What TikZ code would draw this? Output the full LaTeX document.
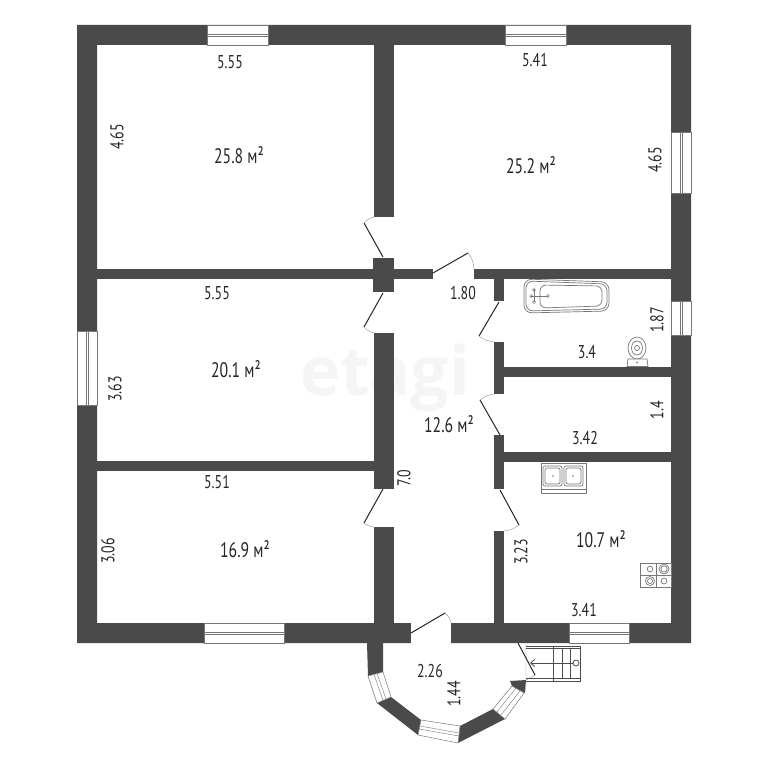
\documentclass[tikz,border=0pt]{standalone}
\usepackage{fontspec}
\setmainfont{PT Sans}[FakeStretch=0.75]
\newfontfamily\wmfont{Open Sans}
\usetikzlibrary{arrows.meta}
\definecolor{wallc}{HTML}{4A4A4A}
\definecolor{thinc}{HTML}{777777}
\tikzset{
  wall/.style={fill=wallc,draw=none},
  glass/.style={fill=white,draw=thinc,line width=.5pt},
  pane/.style={draw=thinc,line width=.6pt},
  doorleaf/.style={draw=black!85,line width=1pt},
  doorarc/.style={draw=black!45,line width=.4pt},
  fix/.style={draw=thinc,line width=.7pt,fill=white},
  fixb/.style={draw=black!70,line width=.8pt},
  dim/.style={font=\fontsize{18.5}{18.5}\selectfont,text=black!85,inner sep=0pt},
  area/.style={font=\fontsize{21}{21}\selectfont,text=black!85,inner sep=0pt},
}
\newcommand{\hwin}[4]{% x1 x2 y1 y2
  \fill[white] (#1,#3) rectangle (#2,#4);
  \draw[glass,fill=none] (#1,#3) rectangle (#2,#4);
  \draw[pane] (#1,{(#3+#4)/2-1}) -- (#2,{(#3+#4)/2-1}) (#1,{(#3+#4)/2+1}) -- (#2,{(#3+#4)/2+1});
}
\newcommand{\vwin}[4]{% x1 x2 y1 y2
  \fill[white] (#1,#3) rectangle (#2,#4);
  \draw[glass,fill=none] (#1,#3) rectangle (#2,#4);
  \draw[pane] ({(#1+#2)/2-1},#3) -- ({(#1+#2)/2-1},#4) ({(#1+#2)/2+1},#3) -- ({(#1+#2)/2+1},#4);
}
\begin{document}
\begin{tikzpicture}[x=1pt,y=-1pt]
\useasboundingbox (0,0) rectangle (768,768);
\fill[white] (0,0) rectangle (768,768);
% watermark
\node[inner sep=0pt,text=black!4,font=\wmfont\bfseries\fontsize{68}{68}\selectfont] (wm) at (385,378) {etagi};
% outer walls
\fill[wall,even odd rule] (77,25) rectangle (691,643) (97,45) rectangle (671,623);
% inner walls
\fill[wall] (374,45) rectangle (394,217);
\fill[wall] (373,258) rectangle (394,292);
\fill[wall] (374,333) rectangle (394,489);
\fill[wall] (374,527) rectangle (394,623);
\fill[wall] (97,269) rectangle (433,279);
\fill[wall] (474,269) rectangle (671,279);
\fill[wall] (97,461) rectangle (374,471);
\fill[wall] (494,279) rectangle (504,301);
\fill[wall] (494,342) rectangle (504,394);
\fill[wall] (494,435) rectangle (504,489);
\fill[wall] (494,531) rectangle (504,623);
\fill[wall] (504,367) rectangle (671,377);
\fill[wall] (504,452) rectangle (671,462);
% door gap in bottom wall
\fill[white] (411,623) rectangle (451,643.5);
% windows
\hwin{207}{268}{25}{45}
\hwin{505}{566}{25}{45}
\hwin{204}{284}{623}{643}
\hwin{569}{629}{623}{643}
\vwin{671}{691}{132}{193}
\vwin{671}{691}{301}{335}
\vwin{77}{97}{331}{405}
% doors
\draw[doorleaf] (383,257) -- (364,223);
\draw[doorarc] (364,223) to[bend left=15] (374,217);
\draw[doorleaf] (383,293) -- (364,327);
\draw[doorarc] (364,327) to[bend right=15] (374,333);
\draw[doorleaf] (433,273) -- (468,253);
\draw[doorarc] (468,253) to[bend left=18] (474,269);
\draw[doorleaf] (499,302) -- (479,336);
\draw[doorarc] (479,336) to[bend right=15] (494,342);
\draw[doorleaf] (500,435) -- (480,400);
\draw[doorarc] (480,400) to[bend left=15] (494,394);
\draw[doorleaf] (500,490) -- (519,525);
\draw[doorarc] (519,525) to[bend left=15] (504,531);
\draw[doorleaf] (383,489) -- (364,523);
\draw[doorarc] (364,523) to[bend right=15] (374,527);
\draw[doorleaf] (411,633) -- (445,613);
\draw[doorarc] (445,613) to[bend left=18] (451,623);
% bay
\fill[wall] (367,643) -- (383,643) -- (383,672) -- (368,676) -- cycle;
\fill[wall] (377,703) -- (391,697) -- (421,720) -- (418,735) -- cycle;
\fill[wall] (460,726) -- (493,709) -- (505,719) -- (458,743) -- cycle;
\fill[wall] (510,681) -- (526,680) -- (525,693) -- (512,686) -- cycle;
\draw[glass] (368,676) -- (383,672) -- (391,697) -- (377,703) -- cycle;
\draw[pane,line width=.4pt] (374,674.5) -- (383,700) (377,673.5) -- (386,699);
\draw[glass] (421,720) -- (460,726) -- (458,743) -- (418,735) -- cycle;
\draw[pane,line width=.4pt] (420,726) -- (459,733) (419,729) -- (459,736);
\draw[glass] (493,709) -- (512,686) -- (524,693) -- (505,719) -- cycle;
\draw[pane,line width=.4pt] (497,712) -- (516,688) (501,715) -- (520,691);
% stairs door
\draw[doorarc] (526,645) -- (526,680) -- (535,675);
\draw[doorleaf] (518,643) -- (535,675);
% stairs
\draw[fixb] (526,646) -- (580,646) -- (580,681) -- (526,681);
\draw[fixb] (526,648.5) -- (580,648.5) (526,678) -- (580,678);
\draw[fixb] (553,646) -- (553,681) (562,648) -- (562,678) (570,648) -- (570,678);
\draw[fixb,-{Straight Barb[length=4pt,width=7pt]}] (573,663) -- (530,663);
\draw[fixb,fill=white] (576,663) circle (3);
% bath
\draw[fix,rounded corners=8pt] (524,279) -- (609,282) -- (609,311) -- (524,313) -- cycle;
\draw[fix,rounded corners=7pt] (526,281) -- (607,284) -- (607,309) -- (526,311) -- cycle;
\draw[fix,rounded corners=6pt] (540,285) -- (602,286) -- (602,306) -- (540,308) -- cycle;
\draw[pane,line width=.5pt] (530,296) -- (548,296) (534,289) -- (534,302);
\draw[pane,line width=.5pt] (534,290) circle (1.6) (534,302) circle (1.6) (548,296) circle (1.6) (531,296) circle (1.4);
% toilet
\draw[fix] (637,348) ellipse (9 and 11);
\draw[fix] (637,348) ellipse (5.5 and 7);
\draw[fix] (637,348) circle (2.5);
\draw[fix] (628,359) -- (647,359) -- (648,366.5) -- (627,366.5) -- cycle;
\fill[thinc] (637,362.5) circle (1);
% sink
\draw[fix] (541,463) rectangle (586,493);
\draw[pane] (541,489) -- (586,489);
\draw[fix,rounded corners=2pt] (543,466) rectangle (562,486);
\draw[fix,rounded corners=2pt] (545,468) rectangle (560,484);
\draw[fix,rounded corners=2pt] (564,466) rectangle (583,486);
\draw[fix,rounded corners=2pt] (566,468) rectangle (581,484);
\fill[thinc] (553,476) circle (.8) (573,476) circle (.8);
% stove
\draw[fix] (640,563) rectangle (671,587);
\draw[pane] (656,563) -- (656,587) (640,575) -- (671,575);
\draw[fix] (650,569) circle (2.8);
\draw[fix] (664,569) circle (5) (664,569) circle (3.2);
\draw[fix] (650,581) circle (4.5) (650,581) circle (2.5);
\draw[fix] (664,581) circle (3);
% labels
\node[dim] (a1) at (230,62) {5.55};
\node[dim] (a2) at (535,60) {5.41};
\node[area] (b1) at (239,155) {25.8 м²};
\node[area] (b2) at (531,165) {25.2 м²};
\node[dim,rotate=90] (a3) at (117,137) {4.65};
\node[dim,rotate=90] (a4) at (655,160) {4.65};
\node[dim] (a5) at (217,293) {5.55};
\node[dim] (a6) at (463,293) {1.80};
\node[area] (b3) at (236,369) {20.1 м²};
\node[dim,rotate=90] (a7) at (115,389) {3.63};
\node[area] (b4) at (449,424) {12.6 м²};
\node[dim,rotate=90] (a8) at (404,478) {7.0};
\node[dim] (a9) at (217,482) {5.51};
\node[area] (b5) at (245,549) {16.9 м²};
\node[dim,rotate=90] (a10) at (108,551) {3.06};
\node[dim] (a11) at (587,352) {3.4};
\node[dim,rotate=90] (a12) at (657,320) {1.87};
\node[dim,rotate=90] (a13) at (657,410) {1.4};
\node[dim] (a14) at (585,438) {3.42};
\node[area] (b6) at (601,539) {10.7 м²};
\node[dim,rotate=90] (a15) at (521,552) {3.23};
\node[dim] (a16) at (584,610) {3.41};
\node[dim] (a17) at (430,671) {2.26};
\node[dim,rotate=90] (a18) at (454,694) {1.44};
\end{tikzpicture}
\end{document}
